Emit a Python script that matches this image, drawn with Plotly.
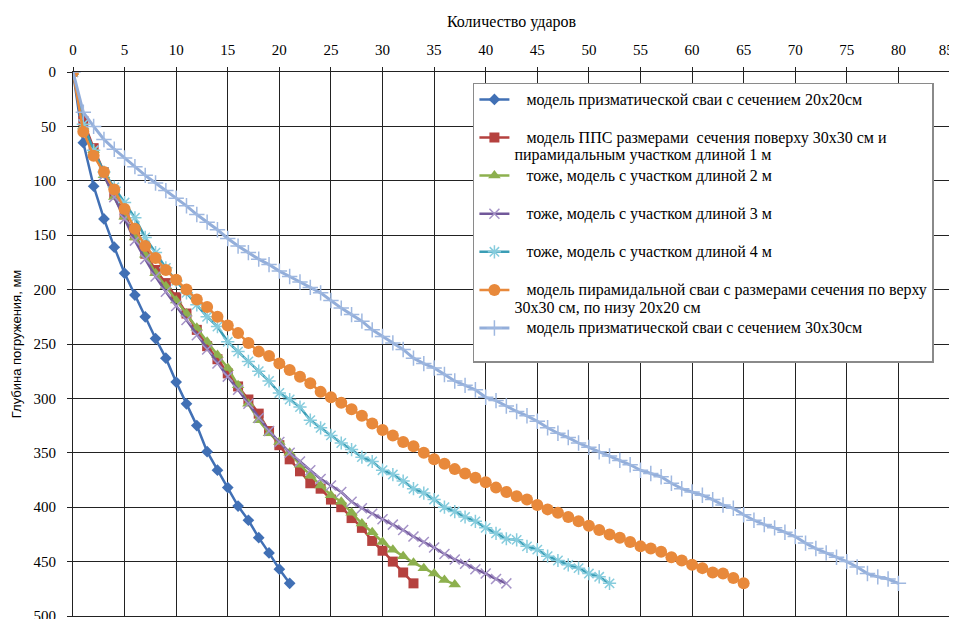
import plotly.graph_objects as go

# Depth of penetration (mm) after each blow (blow index = 0, 1, 2, ...)
depth_20x20 = [0, 65, 105, 135, 161, 185, 205, 225, 245, 263, 285, 305, 325, 349, 366, 382, 399, 412, 428, 442, 457, 470]
depth_pps_1m = [0, 45, 70, 92, 112, 131, 150, 167, 182, 194, 207, 222, 237, 252, 264, 277, 289, 301, 314, 330,
                343, 356, 367, 378, 383, 393, 400, 410, 419, 431, 440, 450, 460, 470]
depth_pps_2m = [0, 50, 72, 95, 115, 133, 152, 168, 185, 197, 210, 222, 235, 248, 260, 272, 288, 305, 320, 332,
                340, 350, 361, 371, 380, 389, 395, 405, 415, 423, 432, 439, 445, 451, 456, 461, 467, 471]
depth_pps_3m = [0, 48, 72, 95, 115, 135, 155, 172, 188, 202, 215, 228, 242, 255, 268, 280, 292, 305, 318, 330,
                340, 350, 358, 366, 374, 380, 386, 395, 401, 406, 411, 416, 421, 427, 432, 437, 443, 448, 452, 457,
                461, 466, 470]
depth_pps_4m = [0, 48, 72, 92, 106, 120, 134, 152, 166, 180, 192, 203, 214, 225, 234, 248, 257, 266, 275, 284,
                295, 301, 308, 320, 327, 334, 341, 347, 354, 358, 366, 370, 376, 383, 387, 393, 400, 404, 409, 413,
                419, 424, 429, 430, 436, 439, 445, 449, 453, 456, 461, 464, 470]
depth_pyramid = [0, 55, 77, 92, 108, 126, 144, 160, 171, 182, 191, 200, 209, 216, 225, 233, 240, 249, 257, 261,
                 268, 274, 280, 286, 294, 299, 304, 310, 316, 323, 329, 334, 340, 344, 350, 356, 360, 365, 369, 373,
                 377, 382, 386, 390, 393, 398, 402, 405, 409, 413, 417, 421, 425, 428, 432, 436, 438, 441, 446, 449,
                 453, 456, 460, 461, 465, 470]
depth_30x30 = [0, 37, 50, 62, 71, 79, 87, 95, 102, 109, 116, 123, 131, 138, 145, 153, 160, 166, 172, 177,
               183, 188, 193, 198, 203, 210, 217, 223, 229, 237, 243, 249, 255, 263, 268, 272, 278, 284, 288, 292,
               299, 302, 307, 312, 316, 321, 327, 332, 336, 341, 345, 349, 353, 357, 361, 366, 369, 372, 378, 383,
               386, 389, 393, 398, 401, 407, 412, 416, 419, 423, 427, 433, 438, 442, 446, 450, 455, 461, 464, 466,
               470]

names = [
    ["модель призматической сваи с сечением 20х20см"],
    ["модель ППС размерами  сечения поверху 30х30 см и", "пирамидальным участком длиной 1 м"],
    ["тоже, модель с участком длиной 2 м"],
    ["тоже, модель с участком длиной 3 м"],
    ["тоже, модель с участком длиной 4 м"],
    ["модель пирамидальной сваи с размерами сечения по верху", "30х30 см, по низу 20х20 см"],
    ["модель призматической сваи с сечением 30х30см"],
]

x_ticks = list(range(0, 90, 5))
y_ticks = list(range(0, 550, 50))
# last x label is padded so that it stays inside the picture at the right edge
x_labels = [str(v) for v in x_ticks]
x_labels[-1] = x_labels[-1] + "\u00a0\u00a0"

series = [depth_20x20, depth_pps_1m, depth_pps_2m, depth_pps_3m, depth_pps_4m, depth_pyramid, depth_30x30]
styles = [
    dict(color="#4170B5", symbol="diamond", size=9, mcolor="#4170B5", mline=0, width=2.5),
    dict(color="#B5413E", symbol="square", size=10, mcolor="#B5413E", mline=0, width=2.5),
    dict(color="#8DB04E", symbol="triangle-up", size=11, mcolor="#8DB04E", mline=0, width=2.5),
    dict(color="#71589A", symbol="x-thin-open", size=10, mcolor="#A593C7", mline=1.5, width=2.5),
    dict(color="#3A9DB5", symbol="asterisk-open", size=11, mcolor="#86CCDD", mline=1.5, width=2.5),
    dict(color="#E8893B", symbol="circle", size=12, mcolor="#E8893B", mline=0, width=2.5),
    dict(color="#93AEDA", symbol="cross-thin-open", size=11, mcolor="#9FB8E0", mline=1.5, width=3),
]

nb = "\u00a0" * 3


def big(s):
    return '<span style="font-size:16px">' + s + "</span>"


fig = go.Figure()
for i, (d, nm, st) in enumerate(zip(series, names, styles)):
    lines = [nb + nm[0]] + nm[1:]
    if len(lines) == 1:
        lines.append("\u00a0")
    label = "<br>".join(big(s) for s in lines)
    open_sym = st["symbol"].endswith("open")
    marker = dict(symbol=st["symbol"], size=st["size"], color=st["mcolor"])
    if open_sym:
        marker["line"] = dict(color=st["mcolor"], width=st["mline"])
    else:
        marker["line"] = dict(width=0)
    fig.add_trace(go.Scatter(
        x=list(range(len(d))), y=d, mode="lines+markers", name=label,
        legendgroup=f"g{i}",
        line=dict(color=st["color"], width=st["width"]),
        marker=marker,
    ))

grid = "#222222"
# The page body has an 8px margin; margins below compensate so the plot area
# lands at x 73..950, y 72..616 in the window.
fig.update_layout(
    width=949, height=611,
    margin=dict(l=65, r=7, t=64, b=3),
    paper_bgcolor="white", plot_bgcolor="white",
    font=dict(family="Liberation Serif", size=14, color="black"),
    showlegend=True,
    legend=dict(
        x=0.456, y=0.9805, xanchor="left", yanchor="top",
        bgcolor="white", bordercolor="#8A8A8A", borderwidth=1.5,
        font=dict(family="Liberation Serif", size=13.5, color="black"),
        valign="top", tracegroupgap=0, itemwidth=30,
    ),
    xaxis=dict(
        side="top", range=[0, 85], tickvals=x_ticks, ticktext=x_labels,
        showgrid=True, gridcolor=grid, gridwidth=1, automargin=False,
        showline=True, linecolor=grid, mirror=True, zeroline=False,
        ticks="outside", ticklen=4, tickcolor=grid, ticklabelstandoff=6,
        ticklabeloverflow="allow",
        tickfont=dict(family="Liberation Serif", size=15),
        title=dict(text="Количество ударов", font=dict(family="Liberation Serif", size=16), standoff=10),
    ),
    yaxis=dict(
        range=[500, 0], tickvals=y_ticks, ticktext=[str(v) for v in y_ticks],
        showgrid=True, gridcolor=grid, gridwidth=1, automargin=False,
        showline=True, linecolor=grid, mirror=True, zeroline=False,
        ticks="outside", ticklen=5, tickcolor=grid, ticklabelstandoff=8,
        ticklabeloverflow="allow",
        tickfont=dict(family="Liberation Serif", size=15),
        title=dict(text="Глубина погружения, мм", font=dict(family="Liberation Sans", size=13), standoff=8),
    ),
)

fig.write_html("out.html")
